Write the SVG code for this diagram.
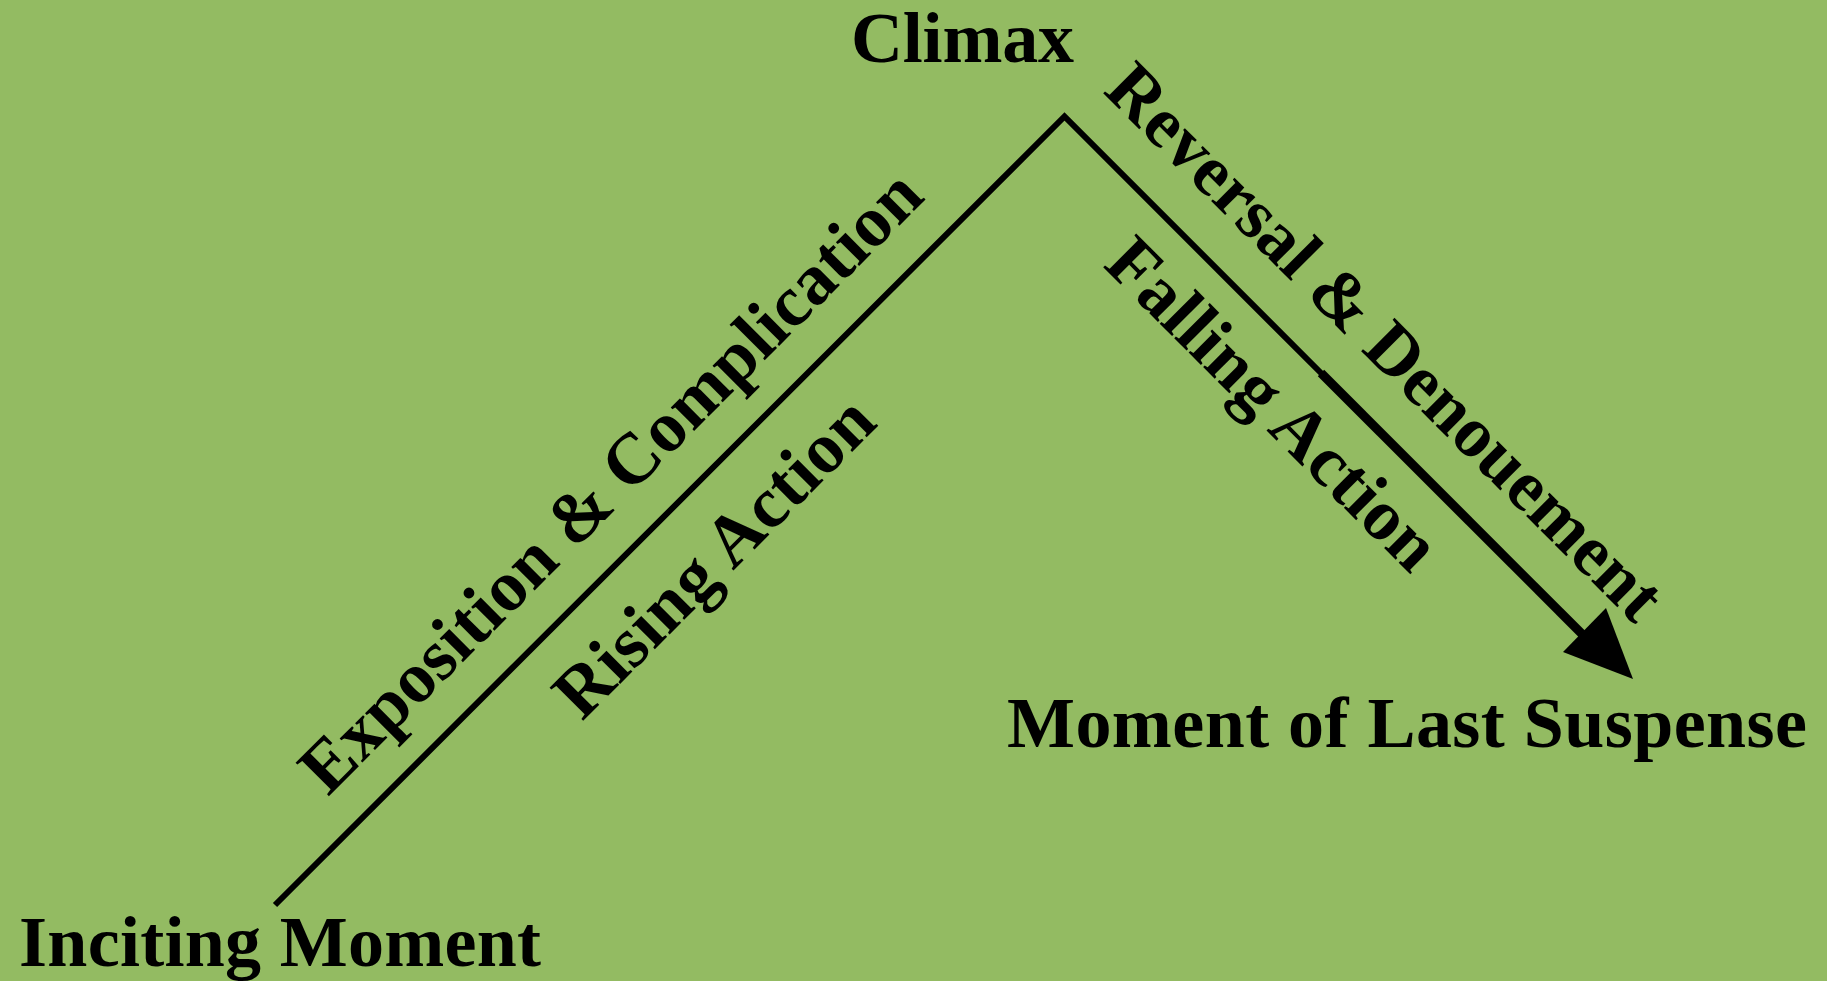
<svg xmlns="http://www.w3.org/2000/svg" width="1827" height="981" viewBox="0 0 1827 981">
  <style>
    .label { font-family: "Liberation Serif", "Times New Roman", serif; font-weight: bold; font-size: 72px; fill: #000; }
    .plot { fill: none; stroke: #000; stroke-linejoin: miter; stroke-miterlimit: 10; }
  </style>
  <rect x="0" y="0" width="1827" height="981" fill="#93bb62"/>

  <!-- plot line: rising side, climax peak, falling side with arrow -->
  <g id="connectors">
    <path class="plot" stroke-width="6" d="M275,905 L1064.5,116.5 L1324,376"/>
    <path class="plot" stroke-width="9" d="M1321,373 L1592,644"/>
    <polygon points="1633,679 1563,652 1606,608" fill="#000"/>
  </g>

  <g id="climax">
    <text class="label" x="851" y="62" textLength="223" lengthAdjust="spacing">Climax</text>
  </g>
  <g id="inciting-moment">
    <text class="label" x="19" y="966" textLength="522" lengthAdjust="spacing">Inciting Moment</text>
  </g>
  <g id="last-suspense">
    <text class="label" x="1007" y="747" textLength="800" lengthAdjust="spacing">Moment of Last Suspense</text>
  </g>
  <g id="exposition">
    <text class="label" transform="translate(328,797) rotate(-45)" x="0" y="0" textLength="846" lengthAdjust="spacing">Exposition &amp; Complication</text>
  </g>
  <g id="rising-action">
    <text class="label" transform="translate(582,722) rotate(-45)" x="0" y="0" textLength="420" lengthAdjust="spacing">Rising Action</text>
  </g>
  <g id="reversal">
    <text class="label" transform="translate(1102,92) rotate(45)" x="0" y="0" textLength="754" lengthAdjust="spacing">Reversal &amp; Denouement</text>
  </g>
  <g id="falling-action">
    <text class="label" transform="translate(1102,266) rotate(45)" x="0" y="0" textLength="437" lengthAdjust="spacing">Falling Action</text>
  </g>
</svg>
